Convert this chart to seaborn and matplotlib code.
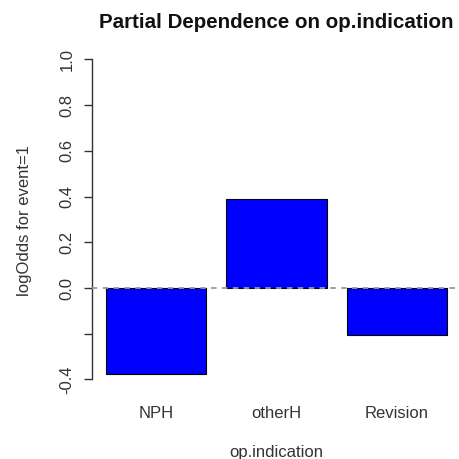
import matplotlib
matplotlib.use("Agg")
import matplotlib.pyplot as plt
import seaborn as sns
import pandas as pd

categories = ["NPH", "otherH", "Revision"]
log_odds = [-0.376, 0.39, -0.205]
y_ticks = [-0.4, -0.2, 0.0, 0.2, 0.4, 0.6, 0.8, 1.0]
y_tick_labels = ["-0.4", "", "0.0", "0.2", "0.4", "0.6", "0.8", "1.0"]

sns.set_style("white")
plt.rcParams["font.family"] = ["Liberation Sans", "DejaVu Sans"]

df = pd.DataFrame({"op.indication": categories, "logOdds": log_odds})

fig = plt.figure(figsize=(4.6, 4.59), dpi=100)
ax = fig.add_axes([0.2009, 0.1453, 0.8004, 0.7534])

sns.barplot(data=df, x="op.indication", y="logOdds", color="#0000FF",
            saturation=1, width=1 / 1.2, edgecolor="black", linewidth=0.8,
            errorbar=None, ax=ax)

ax.axhline(0, color="#999999", ls=(0, (3, 3)), lw=1.3, zorder=5)

ax.set_xlim(-0.53, 2.53)
ax.set_ylim(-0.456, 1.056)

for s in ["top", "right", "bottom"]:
    ax.spines[s].set_visible(False)
ax.spines["left"].set_bounds(-0.4, 1.0)
ax.spines["left"].set_color("#333333")
ax.spines["left"].set_linewidth(1.0)

ax.set_yticks(y_ticks)
ax.set_yticklabels(y_tick_labels, rotation=90, va="center", fontsize=12, color="#333333")
ax.tick_params(axis="y", left=True, length=5.8, width=1.0, color="#333333", pad=7)
ax.tick_params(axis="x", bottom=False, labelsize=12, labelcolor="#333333", pad=6)

ax.set_xlabel("")
ax.set_ylabel("")
fig.text(276 / 460, 1 - 452 / 459, "op.indication", ha="center", va="center",
         fontsize=12, color="#333333")
fig.text(25 / 460, 1 - 221 / 459, "logOdds for event=1", ha="center", va="center",
         rotation=90, fontsize=12, color="#333333")
fig.text(276 / 460, 1 - 23 / 459, "Partial Dependence on op.indication", ha="center",
         va="center", fontsize=14.8, fontweight="bold", color="#111111")

fig.savefig("out.png", dpi=100)
